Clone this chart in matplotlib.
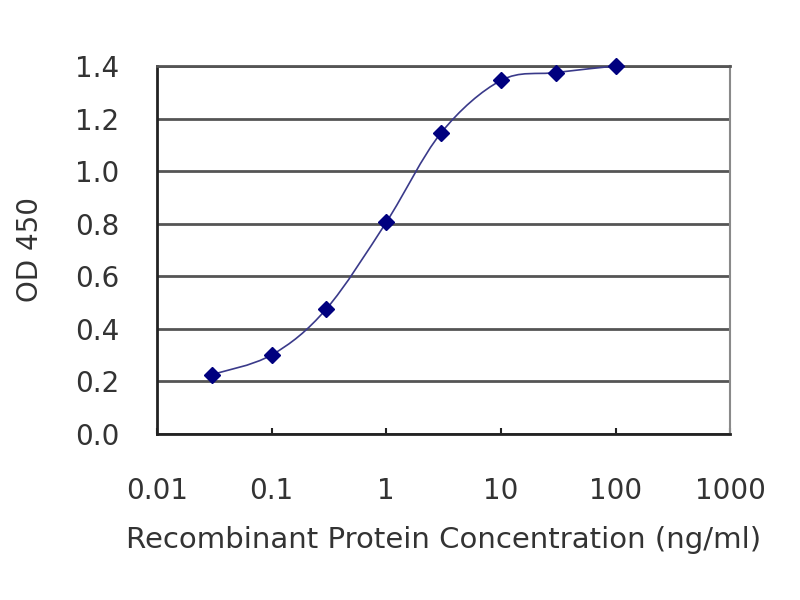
import numpy as np
import matplotlib.pyplot as plt
from matplotlib.path import Path
from matplotlib.patches import PathPatch

plt.rcParams['font.family'] = ['DejaVu Sans']

conc = [0.03, 0.1, 0.3, 1, 3, 10, 30, 100]
od = [0.225, 0.30, 0.475, 0.805, 1.145, 1.345, 1.375, 1.40]
xticks = [0.01, 0.1, 1, 10, 100, 1000]
yticks = [0.0, 0.2, 0.4, 0.6, 0.8, 1.0, 1.2, 1.4]

navy = '#00007f'
grid_c = '#555555'
text_c = '#333333'

fig = plt.figure(figsize=(8, 6), dpi=100)
ax = fig.add_axes([0.196, 0.277, 0.717, 0.613])

# work in log10 space so the smoothed path stays a simple bezier
lx = np.log10(conc)
y = np.array(od)
pts = np.column_stack([lx, y])
n = len(pts)
verts = [pts[0]]
codes = [Path.MOVETO]
for i in range(n - 1):
    p0 = pts[max(i - 1, 0)]
    p1 = pts[i]
    p2 = pts[i + 1]
    p3 = pts[min(i + 2, n - 1)]
    verts += [p1 + (p2 - p0) / 6, p2 - (p3 - p1) / 6, p2]
    codes += [Path.CURVE4] * 3
ax.add_patch(PathPatch(Path(verts, codes), fill=False, ec='#3a3a8a', lw=1.2, zorder=3))
ax.plot(lx, y, ls='none', marker='D', ms=8, color=navy, zorder=4, clip_on=False)

ax.set_xlim(-2, 3)
ax.set_ylim(0, 1.4)
ax.set_yticks(yticks)
ax.set_yticklabels(['%.1f' % v for v in yticks])
ax.set_xticks(np.log10(xticks))
ax.set_xticklabels(['%g' % v for v in xticks])
ax.yaxis.grid(True, color=grid_c, lw=2)
ax.set_axisbelow(True)
ax.tick_params(axis='y', length=0, pad=27, labelsize=20, labelcolor=text_c)
ax.tick_params(axis='x', direction='in', length=4, width=1.5, color='#222222',
               pad=31, labelsize=20, labelcolor=text_c)
for s in ['left', 'bottom']:
    ax.spines[s].set_color('#222222')
    ax.spines[s].set_linewidth(2)
ax.spines['top'].set_color(grid_c)
ax.spines['top'].set_linewidth(2)
ax.spines['right'].set_color('#8a8a8a')
ax.spines['right'].set_linewidth(1.5)

ax.set_ylabel('OD 450', fontsize=20, color=text_c, labelpad=22)
ax.set_xlabel('Recombinant Protein Concentration (ng/ml)', fontsize=21,
              color=text_c, labelpad=15)

fig.savefig('out.png', dpi=100)
